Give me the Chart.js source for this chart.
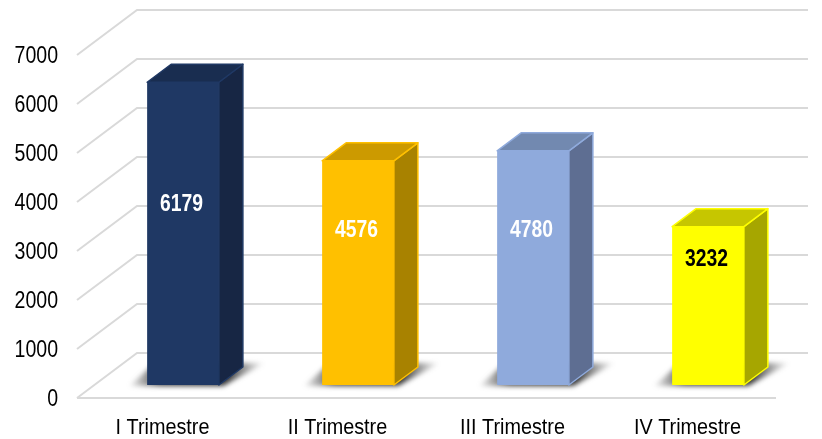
<!DOCTYPE html>
<html>
<head>
<meta charset="utf-8">
<script src="https://cdn.jsdelivr.net/npm/chart.js@4"></script>
<style>
    body { margin: 0; background: #fff; }
    #wrap { width: 822px; height: 439px; }
</style>
</head>
<body>
<div id="wrap"><canvas id="chart" width="822" height="439"></canvas></div>
<script>
const categories = ['I Trimestre', 'II Trimestre', 'III Trimestre', 'IV Trimestre'];
const values = [6179, 4576, 4780, 3232];
const yTicks = [0, 1000, 2000, 3000, 4000, 5000, 6000, 7000];

const frontColors = ['#1F3864', '#FFC000', '#8FAADC', '#FFFF00'];
const topColors = ['#192D50', '#CC9A00', '#7289B0', '#C6C600'];
const sideColors = ['#172644', '#A88200', '#5E6E92', '#A6A600'];
const labelColors = ['#fff', '#fff', '#fff', '#000'];
// how far down the front face each value label sits
const labelDrop = [0.40, 0.305, 0.335, 0.205];

const FONT = '"Liberation Sans", sans-serif';

// no narrow font installed, so squeeze the text horizontally
function narrowText(ctx, text, x, y, squeeze) {
    ctx.save();
    ctx.translate(x, y);
    ctx.scale(squeeze, 1);
    ctx.fillText(text, 0, 0);
    ctx.restore();
}

const depth3d = {
    id: 'depth3d',
    beforeDatasetsDraw(chart) {
        const ctx = chart.ctx;
        const y = chart.scales.y;
        const x = chart.scales.x;
        const left = chart.chartArea.left + 2;

        // walls and floor
        ctx.save();
        ctx.strokeStyle = '#D9D9D9';
        ctx.lineWidth = 2;
        yTicks.forEach(t => {
            const py = y.getPixelForValue(t);
            ctx.beginPath();
            ctx.moveTo(left, py);
            ctx.lineTo(left + 60, py - 45);
            ctx.lineTo(808, py - 45);
            ctx.stroke();
        });
        const py0 = y.getPixelForValue(0);
        ctx.beginPath();
        ctx.moveTo(left, py0);
        ctx.lineTo(776, py0);
        ctx.stroke();
        ctx.restore();

        // axis labels
        ctx.save();
        ctx.fillStyle = '#000';
        ctx.font = '23px ' + FONT;
        ctx.textBaseline = 'middle';
        ctx.textAlign = 'right';
        yTicks.forEach(t => narrowText(ctx, String(t), 58, y.getPixelForValue(t) + 2, 0.85));
        ctx.font = '22px ' + FONT;
        ctx.textAlign = 'center';
        categories.forEach((c, i) => narrowText(ctx, c, x.getPixelForValue(i), 428, 0.9));
        ctx.restore();

        // soft shadows on the floor
        ctx.save();
        ctx.translate(20.5, -13);
        chart.getDatasetMeta(0).data.forEach(bar => {
            const l = bar.x - bar.width / 2;
            const r = bar.x + bar.width / 2;
            const fade = ctx.createLinearGradient(l - 20, 0, r + 46, 0);
            fade.addColorStop(0, 'rgba(80,80,80,0)');
            fade.addColorStop(0.24, '#444');
            fade.addColorStop(0.72, '#333');
            fade.addColorStop(1, 'rgba(80,80,80,0)');
            ctx.save();
            ctx.filter = 'blur(2.5px)';
            ctx.fillStyle = fade;
            ctx.beginPath();
            ctx.moveTo(l - 18, bar.base + 1);
            ctx.lineTo(r + 4, bar.base + 1);
            ctx.lineTo(r + 46, bar.base - 22);
            ctx.lineTo(l + 8, bar.base - 22);
            ctx.closePath();
            ctx.fill();
            ctx.restore();
        });
        ctx.restore();

        // bars stand a little behind the front edge of the floor
        ctx.save();
        ctx.translate(20.5, -13);
    },
    afterDatasetsDraw(chart) {
        const ctx = chart.ctx;
        const dx = 24, dy = 18;
        chart.getDatasetMeta(0).data.forEach((bar, i) => {
            const l = bar.x - bar.width / 2;
            const r = bar.x + bar.width / 2;
            ctx.lineWidth = 1.5;
            ctx.strokeStyle = frontColors[i];
            ctx.lineJoin = 'round';

            ctx.fillStyle = sideColors[i];
            ctx.beginPath();
            ctx.moveTo(r, bar.y);
            ctx.lineTo(r + dx, bar.y - dy);
            ctx.lineTo(r + dx, bar.base - dy);
            ctx.lineTo(r, bar.base);
            ctx.closePath();
            ctx.fill();
            ctx.stroke();

            ctx.fillStyle = topColors[i];
            ctx.beginPath();
            ctx.moveTo(l, bar.y);
            ctx.lineTo(l + dx, bar.y - dy);
            ctx.lineTo(r + dx, bar.y - dy);
            ctx.lineTo(r, bar.y);
            ctx.closePath();
            ctx.fill();
            ctx.stroke();

            ctx.fillStyle = labelColors[i];
            ctx.font = 'bold 23px ' + FONT;
            ctx.textAlign = 'center';
            ctx.textBaseline = 'middle';
            narrowText(ctx, String(values[i]), bar.x - 1.5, bar.y + (bar.base - bar.y) * labelDrop[i] + 1, 0.84);
        });
        ctx.restore();
    }
};

new Chart(document.getElementById('chart'), {
    type: 'bar',
    data: {
        labels: categories,
        datasets: [{
            data: values,
            backgroundColor: frontColors,
            borderWidth: 0,
            barPercentage: 0.41,
            categoryPercentage: 1
        }]
    },
    options: {
        responsive: false,
        animation: false,
        devicePixelRatio: 1,
        layout: { padding: { top: 55, right: 47, bottom: 0, left: 0 } },
        plugins: { legend: { display: false }, tooltip: { enabled: false } },
        scales: {
            x: {
                grid: { display: false },
                border: { display: false },
                ticks: { display: false },
                afterFit(scale) { scale.height = 41; }
            },
            y: {
                min: 0,
                max: 7000,
                grid: { display: false },
                border: { display: false },
                ticks: { display: false, stepSize: 1000 },
                afterFit(scale) { scale.width = 75; }
            }
        }
    },
    plugins: [depth3d]
});
</script>
</body>
</html>
